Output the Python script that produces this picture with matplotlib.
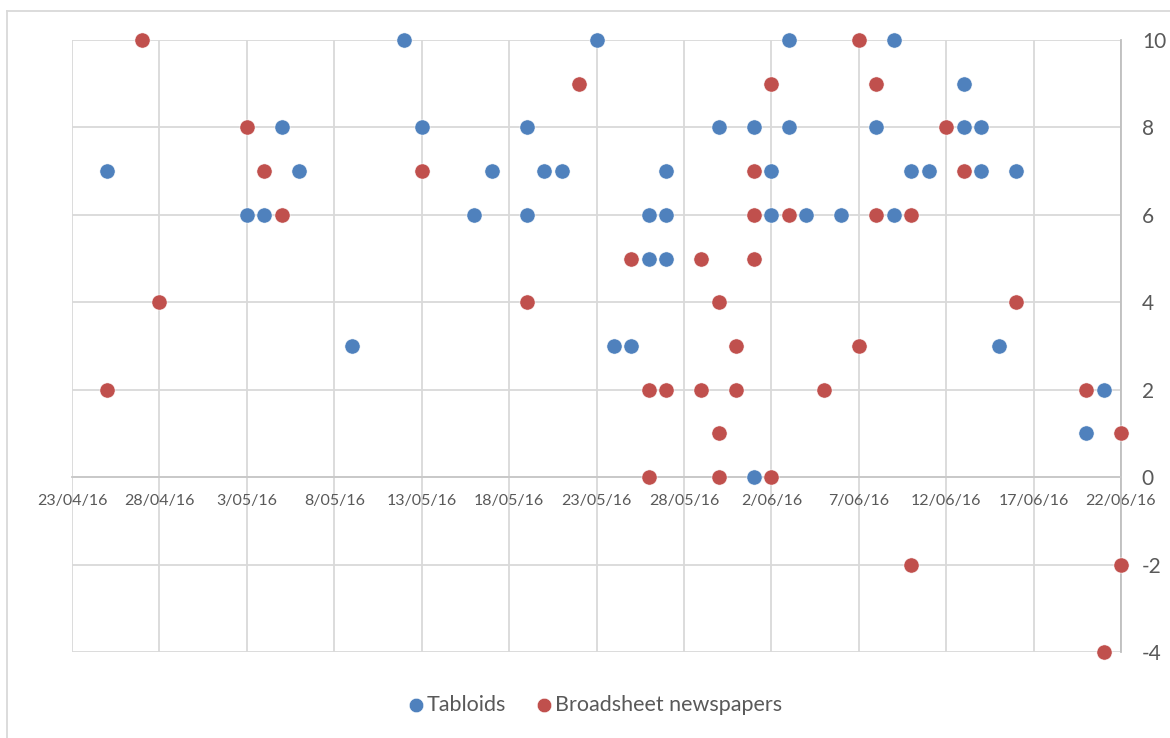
import datetime as dt
import matplotlib
matplotlib.use("Agg")
import matplotlib.pyplot as plt
import matplotlib.dates as mdates
from matplotlib.lines import Line2D
from matplotlib.ticker import FuncFormatter, FixedLocator, MultipleLocator

plt.rcParams['font.family'] = ['Lato', 'DejaVu Sans']
plt.rcParams['axes.unicode_minus'] = False

# scores per article date (dd/mm, 2016)
tabloid_dates = ['25/04', '03/05', '04/05', '05/05', '06/05', '09/05', '12/05', '13/05',
                 '16/05', '17/05', '19/05', '19/05', '20/05', '21/05', '23/05', '24/05',
                 '25/05', '26/05', '26/05', '27/05', '27/05', '27/05', '30/05', '01/06',
                 '01/06', '02/06', '02/06', '03/06', '03/06', '04/06', '06/06', '08/06',
                 '09/06', '09/06', '10/06', '11/06', '13/06', '13/06', '14/06', '14/06',
                 '15/06', '16/06', '20/06', '21/06']
tabloid_scores = [7, 6, 6, 8, 7, 3, 10, 8,
                  6, 7, 8, 6, 7, 7, 10, 3,
                  3, 6, 5, 7, 6, 5, 8, 8,
                  0, 7, 6, 10, 8, 6, 6, 8,
                  10, 6, 7, 7, 9, 8, 8, 7,
                  3, 7, 1, 2]

broadsheet_dates = ['25/04', '27/04', '28/04', '03/05', '04/05', '05/05', '13/05', '19/05',
                    '22/05', '25/05', '26/05', '26/05', '27/05', '29/05', '29/05', '30/05',
                    '30/05', '30/05', '31/05', '31/05', '01/06', '01/06', '01/06', '02/06',
                    '02/06', '03/06', '05/06', '07/06', '07/06', '08/06', '08/06', '10/06',
                    '10/06', '12/06', '13/06', '16/06', '20/06', '21/06', '22/06', '22/06']
broadsheet_scores = [2, 10, 4, 8, 7, 6, 7, 4,
                     9, 5, 2, 0, 2, 5, 2, 4,
                     1, 0, 3, 2, 7, 6, 5, 9,
                     0, 6, 2, 10, 3, 9, 6, 6,
                     -2, 8, 7, 4, 2, -4, 1, -2]


def to_date(s):
    d, m = s.split('/')
    return dt.date(2016, int(m), int(d))


def fmt_date(v, pos):
    d = mdates.num2date(v)
    return f"{d.day}/{d.month:02d}/{d.strftime('%y')}"


blue = '#4f81bd'
red = '#c0504d'
grid_col = '#d9d9d9'
text_col = '#595959'

fig = plt.figure(figsize=(11.7, 7.38), dpi=100)
ax = fig.add_axes([72 / 1170, 1 - 652 / 738, (1121 - 72) / 1170, (652 - 40) / 738])

ax.scatter([to_date(s) for s in tabloid_dates], tabloid_scores, s=120, color=blue,
           edgecolors='white', linewidths=0.4, zorder=3, label='Tabloids', clip_on=False)
ax.scatter([to_date(s) for s in broadsheet_dates], broadsheet_scores, s=120, color=red,
           edgecolors='white', linewidths=0.4, zorder=4, label='Broadsheet newspapers',
           clip_on=False)

# date axis: ticks every 5 days
start, end = dt.date(2016, 4, 23), dt.date(2016, 6, 22)
ax.set_xlim(start, end)
ax.set_ylim(-4, 10)
ticks = [mdates.date2num(start + dt.timedelta(days=5 * i)) for i in range(13)]
ax.xaxis.set_major_locator(FixedLocator(ticks))
ax.xaxis.set_major_formatter(FuncFormatter(fmt_date))
ax.yaxis.set_major_locator(MultipleLocator(2))

ax.grid(True, color=grid_col, linewidth=1.3, zorder=0)
ax.set_axisbelow(True)
for side in ['top', 'left']:
    ax.spines[side].set_visible(False)
ax.spines['bottom'].set_position(('data', 0))
ax.spines['bottom'].set_color('#c8c8c8')
ax.spines['bottom'].set_linewidth(1.3)
ax.spines['right'].set_color('#bfbfbf')
ax.spines['right'].set_linewidth(1.3)

ax.yaxis.tick_right()
ax.tick_params(axis='x', length=0, pad=12, labelsize=11.5, labelcolor=text_col)
ax.tick_params(axis='y', length=0, pad=15, labelsize=15, labelcolor=text_col)

ax.legend(loc='center', bbox_to_anchor=(0.5, -(705 - 652) / (652 - 40)), ncol=2,
          frameon=False, fontsize=15.5, labelcolor=text_col, handlelength=0.5,
          handletextpad=0.25, columnspacing=1.5, markerscale=0.95)

# outer chart border (top and left edges)
fig.add_artist(Line2D([7 / 1170, 7 / 1170], [0, 1 - 11 / 738], transform=fig.transFigure,
                      color=grid_col, linewidth=1.3))
fig.add_artist(Line2D([7 / 1170, 1], [1 - 11 / 738, 1 - 11 / 738], transform=fig.transFigure,
                      color=grid_col, linewidth=1.3))

fig.savefig('out.png', dpi=100)
